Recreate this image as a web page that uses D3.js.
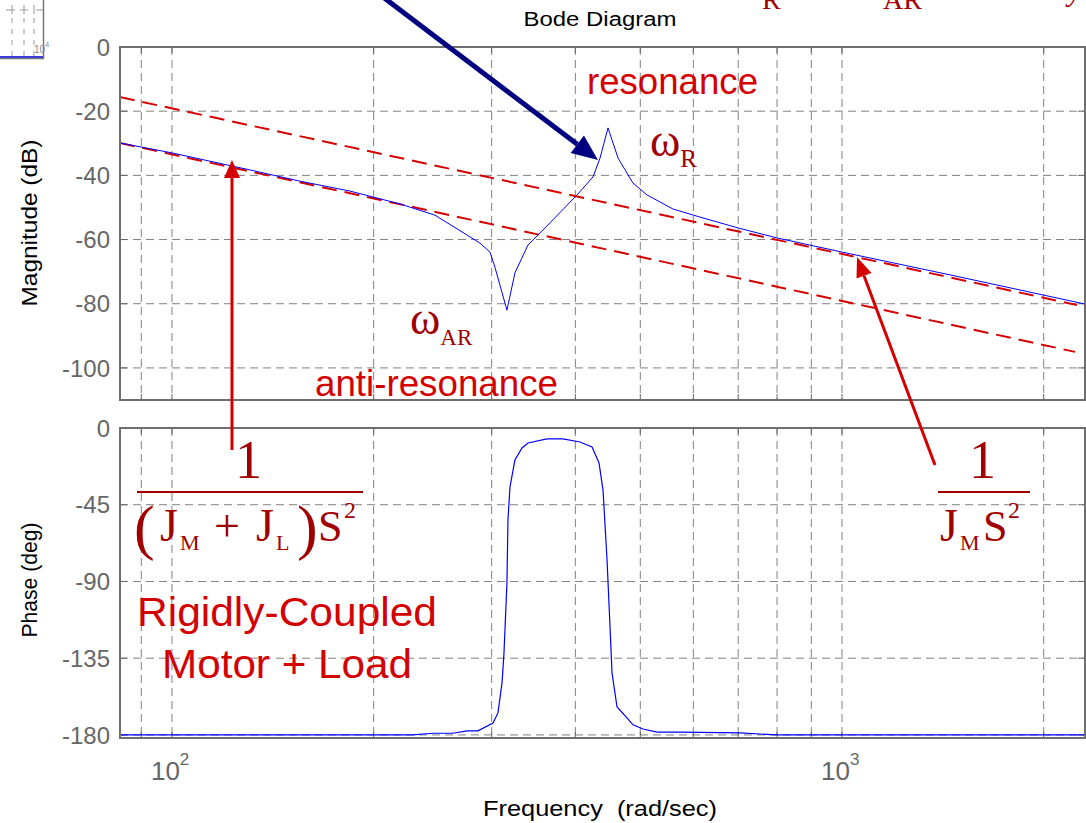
<!DOCTYPE html>
<html>
<head>
<meta charset="utf-8">
<script src="https://d3js.org/d3.v7.min.js"></script>
<style>
  body { margin: 0; background: #fff; }
  svg { display: block; font-family: "Liberation Sans", Arial, sans-serif; }
</style>
</head>
<body>
<svg width="1086" height="823"></svg>
<script>
// magnitude response (rad/sec, dB)
var magFreq = [83.6, 100, 130.7, 155.2, 184.4, 218.9, 246.9, 288.2, 298.3, 303.4, 316.2, 325.0, 339.9, 366.6,
               402.3, 425.0, 435.4, 447.5, 463.2, 487.6, 511.7, 559.6, 613.8, 700, 800, 1000, 1449, 2305];
var magDb = [-29.9, -33.0, -38.3, -41.8, -44.9, -48.9, -52.4, -61.1, -63.9, -68.6, -82.0, -70.4, -61.7, -54.8,
             -46.1, -40.5, -34.6, -25.2, -34.6, -42.4, -46.1, -50.5, -53.0, -56.4, -59.5, -63.9, -71.0, -80.1];

// phase response (rad/sec, deg)
var phaseFreq = [83.6, 204.4, 228.9, 245.2, 262.7, 275.6, 286.2, 301.4, 306.6, 310.9, 313.0, 316.2, 317.3, 319.5,
                 325.0, 333.0, 339.9, 362.8, 383.3, 406.4, 423.6, 433.9, 439.9, 446.0, 450.6, 453.7, 461.6, 477.7,
                 487.6, 504.7, 529.6, 573.1, 704.4, 797, 2305];
var phaseDeg = [-180, -180, -180, -179.0, -179.0, -177.6, -177.6, -173.0, -167.1, -149.5, -131.9, -90.9, -53.9, -34.6,
                -18.8, -11.7, -8.8, -6.4, -6.4, -8.2, -11.1, -20.5, -36.4, -77.4, -116.7, -143.6, -163.6, -170.0,
                -174.1, -176.5, -178.3, -178.3, -178.8, -180, -180];

// asymptotes 1/(Jm s^2) and 1/((Jm+Jl) s^2)
var motorFreq = [83.6, 2242];
var motorDb = [-15.6, -80.4];
var rigidFreq = [83.6, 2227];
var rigidDb = [-29.9, -95.0];

var freqGrid = [90, 100, 200, 300, 400, 500, 600, 700, 800, 900, 1000, 2000];
var freqLabels = [100, 1000];
var magTicks = [0, -20, -40, -60, -80, -100];
var phaseTicks = [0, -45, -90, -135, -180];

var left = 120, right = 1085;
var magTop = 47, magBottom = 400;
var phTop = 428, phBottom = 738;

var svg = d3.select("svg");

var x = d3.scaleLog().domain([83.65, 2305]).range([left, right]);
var yMag = d3.scaleLinear().domain([-110, 0]).range([magBottom, magTop]);
var yPh = d3.scaleLinear().domain([-181.8, 0]).range([phBottom, phTop]);

var defs = svg.append("defs");
defs.append("clipPath").attr("id", "clipMag")
  .append("rect").attr("x", left).attr("y", magTop).attr("width", right - left).attr("height", magBottom - magTop);
defs.append("clipPath").attr("id", "clipPh")
  .append("rect").attr("x", left).attr("y", phTop).attr("width", right - left).attr("height", phBottom - phTop);

// bit of another plot peeking in at top left
var frag = svg.append("g");
[12, 24, 34].forEach(function(gx) {
  frag.append("line").attr("x1", gx).attr("x2", gx).attr("y1", 18).attr("y2", 58)
    .attr("stroke", "#999").attr("stroke-dasharray", "5,6");
  frag.append("line").attr("x1", gx).attr("x2", gx).attr("y1", 5).attr("y2", 14).attr("stroke", "#999");
});
[[6, 15], [20, 28], [36, 43]].forEach(function(s) {
  frag.append("line").attr("x1", s[0]).attr("x2", s[1]).attr("y1", 10).attr("y2", 10).attr("stroke", "#999");
});
frag.append("line").attr("x1", 43.5).attr("x2", 43.5).attr("y1", 0).attr("y2", 59).attr("stroke", "#777").attr("stroke-width", 1.5);
frag.append("line").attr("x1", 0).attr("x2", 44).attr("y1", 58.5).attr("y2", 58.5).attr("stroke", "#777").attr("stroke-width", 1.5);
frag.append("line").attr("x1", 0).attr("x2", 43).attr("y1", 57).attr("y2", 57).attr("stroke", "#3b3bd6").attr("stroke-width", 2);
var fragLab = frag.append("text").attr("x", 34).attr("y", 53).attr("fill", "#888").style("font-size", "10px");
fragLab.append("tspan").text("10");
fragLab.append("tspan").attr("dy", -6).style("font-size", "7px").text("4");

function panel(yScale, ticks, top, bottom) {
  var g = svg.append("g");
  // grid
  g.selectAll(".vgrid").data(freqGrid).enter().append("line")
    .attr("x1", d => x(d)).attr("x2", d => x(d))
    .attr("y1", top).attr("y2", bottom)
    .attr("stroke", "#808080").attr("stroke-width", 1).attr("stroke-dasharray", "8,5");
  g.selectAll(".hgrid").data(ticks).enter().append("line")
    .attr("x1", left).attr("x2", right)
    .attr("y1", d => yScale(d)).attr("y2", d => yScale(d))
    .attr("stroke", "#808080").attr("stroke-width", 1).attr("stroke-dasharray", "8,5");
  // inner ticks
  g.selectAll(".tt").data(freqGrid).enter().append("path")
    .attr("d", d => "M" + x(d) + "," + top + "v6M" + x(d) + "," + bottom + "v-6")
    .attr("stroke", "#666");
  g.selectAll(".yt").data(ticks).enter().append("path")
    .attr("d", d => "M" + left + "," + yScale(d) + "h7M" + right + "," + yScale(d) + "h-7")
    .attr("stroke", "#666");
  // tick labels
  g.selectAll(".yl").data(ticks).enter().append("text")
    .attr("x", 110).attr("y", d => yScale(d)).attr("dy", "0.36em")
    .attr("text-anchor", "end").attr("fill", "#666")
    .style("font-size", "24px")
    .text(d => d === 0 ? "0" : "-" + Math.abs(d));
  return g;
}

panel(yMag, magTicks, magTop, magBottom);
panel(yPh, phaseTicks, phTop, phBottom);

var magLine = d3.line().x(d => x(d[0])).y(d => yMag(d[1]));
var phLine = d3.line().x(d => x(d[0])).y(d => yPh(d[1]));

var curves = svg.append("g").attr("clip-path", "url(#clipMag)");
curves.append("path")
  .datum(d3.zip(rigidFreq, rigidDb))
  .attr("d", magLine).attr("fill", "none")
  .attr("stroke", "#d40000").attr("stroke-width", 2).attr("stroke-dasharray", "15,8");
curves.append("path")
  .datum(d3.zip(magFreq, magDb))
  .attr("d", magLine).attr("fill", "none")
  .attr("stroke", "#0000ff").attr("stroke-width", 1);
curves.append("path")
  .datum(d3.zip(motorFreq, motorDb))
  .attr("d", magLine).attr("fill", "none")
  .attr("stroke", "#d40000").attr("stroke-width", 2).attr("stroke-dasharray", "15,8");

svg.append("g").attr("clip-path", "url(#clipPh)")
  .append("path")
  .datum(d3.zip(phaseFreq, phaseDeg))
  .attr("d", phLine).attr("fill", "none")
  .attr("stroke", "#0000ff").attr("stroke-width", 1.2);

// frames
[[magTop, magBottom], [phTop, phBottom]].forEach(function(f) {
  svg.append("rect").attr("x", left).attr("y", f[0]).attr("width", right - left).attr("height", f[1] - f[0])
    .attr("fill", "none").attr("stroke", "#6e6e6e").attr("stroke-width", 2);
});

// x tick labels
freqLabels.forEach(function(f) {
  var t = svg.append("text").attr("x", x(f) - 21).attr("y", 780).attr("fill", "#666").style("font-size", "26px");
  t.append("tspan").text("10");
  t.append("tspan").attr("dy", -15).style("font-size", "17px").text(Math.round(Math.log10(f)));
});

// axis titles
svg.append("text").attr("x", 600).attr("y", 26).attr("text-anchor", "middle")
  .style("font-size", "20px").attr("textLength", 153).attr("lengthAdjust", "spacingAndGlyphs")
  .text("Bode Diagram");
svg.append("text").attr("x", 600).attr("y", 816).attr("text-anchor", "middle")
  .style("font-size", "22px").attr("textLength", 234).attr("lengthAdjust", "spacingAndGlyphs")
  .attr("xml:space", "preserve").text("Frequency  (rad/sec)");
svg.append("text").attr("transform", "translate(37,223) rotate(-90)").attr("text-anchor", "middle")
  .style("font-size", "22px").attr("textLength", 167).attr("lengthAdjust", "spacingAndGlyphs")
  .text("Magnitude (dB)");
svg.append("text").attr("transform", "translate(37,580) rotate(-90)").attr("text-anchor", "middle")
  .style("font-size", "22px").attr("textLength", 115).attr("lengthAdjust", "spacingAndGlyphs")
  .text("Phase (deg)");

// annotations
function arrow(x1, y1, x2, y2, color, w, hl, hw) {
  var a = Math.atan2(y2 - y1, x2 - x1);
  var bx = x2 - hl * Math.cos(a), by = y2 - hl * Math.sin(a);
  svg.append("line").attr("x1", x1).attr("y1", y1).attr("x2", bx).attr("y2", by)
    .attr("stroke", color).attr("stroke-width", w);
  var px = -Math.sin(a) * hw, py = Math.cos(a) * hw;
  svg.append("path")
    .attr("d", "M" + x2 + "," + y2 + "L" + (bx + px) + "," + (by + py) + "L" + (bx - px) + "," + (by - py) + "Z")
    .attr("fill", color);
}
arrow(383, -3, 598, 160, "#000080", 5, 26, 11);
arrow(232, 450, 232, 160, "#d40000", 3, 18, 8);
arrow(935, 465, 857, 257, "#d40000", 3, 20, 8);

var red = "#d40000", dark = "#a00000", serif = "'Liberation Serif', 'Times New Roman', serif";

svg.append("text").attr("x", 587).attr("y", 94).attr("fill", red).style("font-size", "36px")
  .attr("textLength", 171).attr("lengthAdjust", "spacingAndGlyphs").text("resonance");
svg.append("text").attr("x", 315).attr("y", 396).attr("fill", red).style("font-size", "36px")
  .attr("textLength", 243).attr("lengthAdjust", "spacingAndGlyphs").text("anti-resonance");
svg.append("text").attr("x", 137).attr("y", 626).attr("fill", red).style("font-size", "40px")
  .attr("textLength", 300).attr("lengthAdjust", "spacingAndGlyphs").text("Rigidly-Coupled");
svg.append("text").attr("x", 162).attr("y", 678).attr("fill", red).style("font-size", "40px")
  .attr("textLength", 250).attr("lengthAdjust", "spacingAndGlyphs").text("Motor + Load");

function omega(x0, y0, sub, subSize) {
  var t = svg.append("text").attr("x", x0).attr("y", y0).attr("fill", dark).style("font-family", serif);
  t.append("tspan").style("font-size", "46px").text("\u03c9");
  t.append("tspan").attr("dy", 11).style("font-size", subSize + "px").text(sub);
}
omega(650, 156, "R", 25);
omega(410, 334, "AR", 23);

// clipped formula at very top
svg.append("text").attr("x", 762).attr("y", 9).attr("fill", dark).style("font-family", serif).style("font-size", "28px").text("R");
svg.append("text").attr("x", 883).attr("y", 9).attr("fill", dark).style("font-family", serif).style("font-size", "28px").text("AR");
svg.append("text").attr("x", 1068).attr("y", 1).attr("fill", dark).style("font-family", serif).style("font-size", "30px").style("font-style", "italic").text("y");

// fractions
function fracPart(xp, yp, size, txt) {
  svg.append("text").attr("x", xp).attr("y", yp).attr("fill", dark)
    .style("font-family", serif).style("font-size", size + "px").text(txt);
}
fracPart(235, 478, 54, "1");
svg.append("line").attr("x1", 137).attr("x2", 363).attr("y1", 492).attr("y2", 492).attr("stroke", dark).attr("stroke-width", 2);
fracPart(134, 548, 62, "(");
fracPart(160, 541, 46, "J");
fracPart(180, 550, 22, "M");
fracPart(214, 541, 46, "+");
fracPart(256, 541, 46, "J");
fracPart(276, 550, 22, "L");
fracPart(297, 548, 62, ")");
fracPart(318, 541, 44, "S");
fracPart(344, 518, 24, "2");

fracPart(969, 478, 54, "1");
svg.append("line").attr("x1", 938).attr("x2", 1030).attr("y1", 492).attr("y2", 492).attr("stroke", dark).attr("stroke-width", 2);
fracPart(940, 541, 46, "J");
fracPart(960, 550, 22, "M");
fracPart(983, 541, 44, "S");
fracPart(1008, 518, 24, "2");
</script>
</body>
</html>
